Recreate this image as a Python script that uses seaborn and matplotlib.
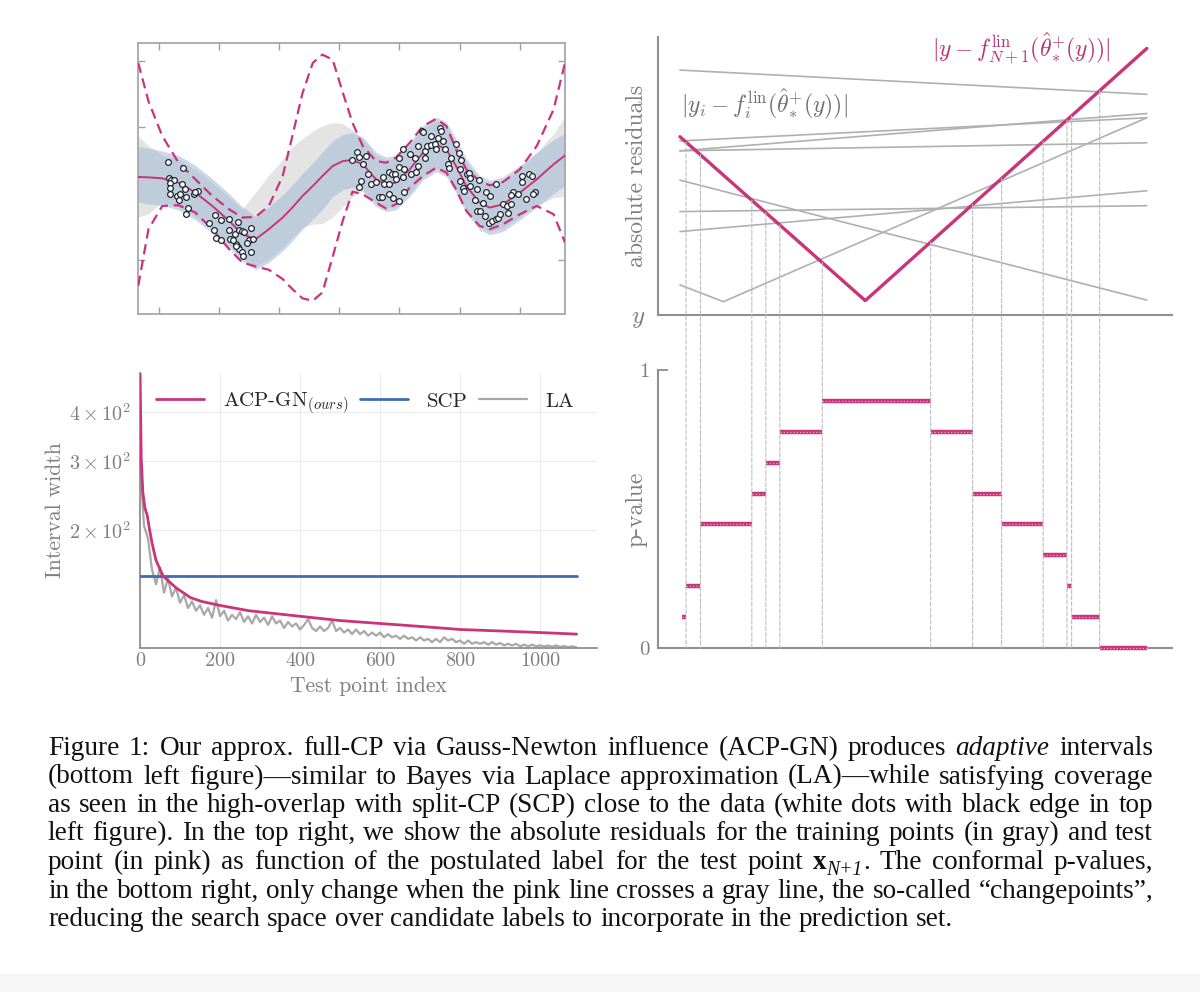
import numpy as np
import pandas as pd
import matplotlib
matplotlib.use("Agg")
import matplotlib.pyplot as plt
import seaborn as sns
from matplotlib.patches import ConnectionPatch, Rectangle
from matplotlib.ticker import NullLocator

PINK = "#c9347a"
BLUE = "#3d6db3"
LINE_GRAY = "#b0b0b0"
AX_GRAY = "#8f8f8f"
TXT_GRAY = "#7f7f7f"

# ---------------- top left: toy regression ----------------
grid_x = [-3.4, -1.7, 0.6, 3.3, 6.1, 8.9, 11.7, 13.9, 16.1, 18.3, 20.6, 22.2, 23.9, 25.6, 27.2,
          28.9, 30.6, 32.2, 33.9, 36.1, 37.8, 39.4, 41.7, 43.9, 46.1, 47.8, 49.4, 51.1, 53.3, 55.0,
          57.2, 60.0, 62.8, 65.6, 67.5]
mean_y = [2.5, 2.45, 2.3, 1.65, 0.15, -1.85, -4.1, -6.1, -6.85, -5.35, -3.6, -2.1, -0.35, 1.15, 2.65,
          4.15, 4.9, 5.05, 4.4, 2.15, 1.4, 1.65, 3.65, 6.15, 7.4, 6.65, 4.15, 1.15, -1.35, -2.1,
          -1.6, 0.15, 2.15, 4.4, 5.75]
acp_upper = [19.65, 13.9, 8.65, 4.65, 2.15, -0.35, -2.35, -3.6, -3.5, -1.85, 2.65, 8.65, 15.15, 19.65, 20.9,
             20.15, 15.15, 10.65, 7.15, 4.9, 4.65, 5.4, 7.65, 10.15, 11.25, 10.15, 6.65, 3.65, 1.9, 1.25,
             1.75, 3.65, 7.15, 12.65, 19.65]
acp_lower = [-13.85, -5.35, -1.85, -1.75, -2.85, -5.35, -8.35, -10.35, -10.95, -11.45, -12.85, -14.35, -15.75, -16.1, -14.85,
             -9.5, -4.0, 0.3, -0.1, -1.35, -2.25, -1.6, 0.9, 2.65, 3.9, 3.15, 0.65, -2.6, -4.85, -5.35,
             -4.6, -3.1, -1.85, -3.1, -7.35]
scp_upper = [7.1, 6.85, 6.4, 5.75, 4.25, 2.25, 0.0, -2.0, -3.45, -1.95, -0.2, 1.3, 3.05, 4.65, 6.25,
             7.95, 8.9, 9.15, 8.5, 6.25, 5.5, 5.75, 7.75, 10.25, 11.5, 10.75, 8.25, 5.25, 2.75, 2.0,
             2.5, 4.25, 6.15, 8.1, 9.05]
scp_lower = [-1.3, -1.55, -1.8, -2.45, -3.95, -5.95, -8.2, -10.2, -11.45, -10.35, -8.6, -7.1, -5.35, -3.85, -2.35,
             -0.45, 0.6, 0.95, 0.3, -1.95, -2.7, -2.45, -0.45, 2.05, 3.3, 2.55, 0.05, -2.95, -5.45, -6.2,
             -5.7, -3.95, -2.05, 0.0, 1.25]
la_upper = [8.6, 7.2, 5.8, 5.15, 3.65, 1.65, -0.6, -2.3, 0.2, 2.8, 5.15, 7.0, 8.3, 9.4, 10.2,
            10.7, 10.5, 9.6, 8.2, 5.75, 5.0, 5.25, 7.25, 9.75, 11.0, 10.25, 7.75, 4.75, 2.25, 1.5,
            2.0, 3.75, 6.2, 9.0, 11.6]
la_lower = [-3.55, -3.0, -1.3, -1.95, -3.45, -5.45, -7.7, -9.7, -10.9, -9.8, -8.1, -6.6, -5.0, -4.6, -4.5,
            -3.5, -2.0, -0.5, 0.6, -1.45, -2.2, -1.95, 0.05, 2.55, 3.8, 3.05, 0.55, -2.45, -4.95, -5.7,
            -5.2, -3.45, -1.8, -0.6, -0.4]
train_x = [1.6, 4.0, 1.7, 2.1, 2.6, 1.8, 1.9, 3.9, 4.4, 1.8, 3.1, 3.6, 4.6, 5.8, 6.6, 6.1, 4.9, 4.6, 3.3,
           8.3, 9.3, 9.2, 10.3, 11.6, 9.6, 10.4, 11.6, 11.8, 12.7, 13.2, 13.3, 13.8, 14.2, 12.8, 13.1, 13.3,
           13.9, 14.0, 15.3, 15.0, 15.7, 15.3, 14.7, 12.3, 12.9,
           32.1, 32.9, 33.3, 34.4, 34.0, 34.7, 33.6, 33.3, 35.3, 36.1, 36.6, 37.1, 37.2, 37.5, 38.3, 38.3,
           38.7, 39.2, 38.3, 38.9, 40.0, 39.9, 40.6, 40.0, 40.7, 40.6, 40.8, 39.4,
           41.8, 41.9, 42.5, 43.1, 42.8, 43.1, 43.8, 43.9, 44.2, 44.2, 44.6, 45.3, 45.3, 45.9, 46.4, 46.7,
           46.9, 47.2, 46.1, 47.5, 48.1, 48.2, 48.6, 49.4, 49.9, 50.2, 50.0, 50.1, 50.6, 51.2, 51.6, 51.8,
           51.7, 50.8,
           52.5, 52.8, 53.2, 52.9, 53.3, 54.2, 54.4, 55.0, 54.9, 55.4, 56.0, 56.3, 56.7, 56.1, 57.2, 57.8,
           58.1, 58.6, 58.8, 58.5, 59.7, 60.3, 60.4, 61.0, 61.6, 62.1, 62.5, 62.2, 53.8]
train_y = [4.7, 3.8, 2.3, 2.1, 2.0, 1.6, 0.9, 1.5, 0.7, 0.0, -0.4, 0.0, -0.5, 0.0, 0.4, 0.2, -2.1, -3.1, -0.9,
           -4.4, -3.2, -5.4, -3.9, -3.8, -6.6, -7.0, -5.4, -6.8, -6.1, -4.3, -5.4, -5.6, -5.8, -7.6, -8.0, -8.4,
           -8.8, -9.4, -5.2, -7.0, -6.8, -8.8, -7.4, -6.9, -7.9,
           5.0, 6.2, 5.5, 5.7, 4.4, 2.9, 1.9, 1.0, 1.4, 1.8, -0.5, -0.5, 2.5, 1.5, 3.3, 1.4,
           2.9, 2.9, -0.1, -0.6, -1.1, 5.3, 6.7, 4.0, 3.7, 2.5, 0.3, 2.2,
           5.9, 2.9, 5.4, 4.2, 3.3, 7.2, 9.4, 9.2, 5.4, 6.4, 7.2, 8.7, 7.3, 7.4, 8.3, 9.8,
           9.4, 7.9, 6.7, 6.7, 4.4, 3.9, 5.4, 7.4, 6.1, 5.1, 3.7, 1.9, 0.8, 2.9, 3.1, 2.3,
           1.2, 0.4,
           -0.9, 0.7, 2.1, -2.6, -2.6, -3.4, 0.3, -0.4, -4.4, -4.1, -3.8, -3.6, -3.0, 1.4, -1.5, -1.9,
           -2.9, -1.6, 0.3, -0.2, 0.0, 1.7, 2.7, -0.8, 3.0, 2.7, 0.2, 0.0, -1.4]

# ---------------- bottom left: interval widths ----------------
acp_idx = [0, 3, 7, 12, 18, 24, 30, 40, 58, 90, 126, 154, 199, 272, 400, 500, 600, 701, 800, 902, 1000, 1091]
acp_width = [520, 306, 250, 228, 218, 200, 185, 167, 152, 142, 134, 131, 128, 124, 120, 117, 115, 113, 111, 110, 109, 108]
scp_idx = [0, 1091]
scp_width = [152, 152]
la_idx = list(range(0, 1100, 10))
la_width = [300, 205, 190, 158, 145, 160, 138, 150, 135, 142,
            130, 136, 126, 131, 124, 128, 121, 126, 119, 132,
            120, 124, 117, 121, 118, 123, 116, 120, 115, 121,
            116, 119, 114, 120, 115, 117, 112, 116, 113, 115,
            111, 114, 118, 112, 110, 113, 110, 112, 117, 110,
            112, 109, 111, 108, 111, 108, 110, 107, 109, 107,
            109, 106, 108, 106, 107, 105, 107, 105, 106, 104,
            106, 104, 105, 103, 105, 103, 106, 104, 105, 103,
            104, 102, 104, 102, 103, 102, 103, 101.5, 103, 101.5,
            102.5, 101, 102, 101, 102, 100.5, 101.5, 100.5, 101.5, 100.5,
            101, 100.5, 101, 100.2, 101, 100.2, 100.6, 100, 100.5, 100]

# ---------------- right: residuals and p-values ----------------
train_res_x = [[0, 10], [0, 10], [0, 10], [0, 10], [0, 10], [0, 10], [0, 10], [0, 0.93, 10]]
train_res_y = [[9.19, 8.28], [6.53, 7.40], [6.16, 7.56], [6.16, 6.46], [5.06, 0.56],
               [3.88, 4.10], [3.13, 4.66], [1.13, 0.50, 7.40]]
test_res_x = [0, 3.97, 10]
test_res_y = [6.69, 0.54, 10.0]
changepoints = [0.13, 0.44, 1.54, 1.84, 2.14, 3.05, 5.37, 6.27, 6.89, 7.78, 8.29, 8.39, 8.99]
step_edges = [0.04, 0.13, 0.44, 1.54, 1.84, 2.14, 3.05, 5.37, 6.27, 6.89, 7.78, 8.29, 8.39, 8.99, 10.0]
pvalue_ninths = [1, 2, 4, 5, 6, 7, 8, 7, 5, 4, 3, 2, 1, 0]

caption_lines = [
    "Figure 1: Our approx. full-CP via Gauss-Newton influence (ACP-GN) produces *adaptive* intervals",
    "(bottom left figure)\u2014similar to Bayes via Laplace approximation (LA)\u2014while satisfying coverage",
    "as seen in the high-overlap with split-CP (SCP) close to the data (white dots with black edge in top",
    "left figure). In the top right, we show the absolute residuals for the training points (in gray) and test",
    "point (in pink) as function of the postulated label for the test point x_{N+1}. The conformal p-values,",
    "in the bottom right, only change when the pink line crosses a gray line, the so-called \u201cchangepoints\u201d,",
    "reducing the search space over candidate labels to incorporate in the prediction set.",
]

sns.set_theme(style="white")
plt.rcParams["font.family"] = "serif"
plt.rcParams["font.serif"] = ["cmr10", "DejaVu Serif"]
plt.rcParams["mathtext.fontset"] = "cm"
plt.rcParams["axes.unicode_minus"] = False
plt.rcParams["axes.formatter.use_mathtext"] = True

fig = plt.figure(figsize=(12, 9.92), dpi=100)


def px_axes(l, t, r, b):
    return fig.add_axes([l / 1200, 1 - b / 992, (r - l) / 1200, (b - t) / 992])


ax_tl = px_axes(138, 43, 565, 314)
ax_bl = px_axes(140, 373, 597, 648)
ax_tr = px_axes(658, 37, 1172, 315)
ax_br = px_axes(658, 370, 1172, 648)

# ---- top left ----
ax = ax_tl
ax.fill_between(grid_x, la_lower, la_upper, color="#e4e4e4", lw=0, zorder=1)
ax.fill_between(grid_x, scp_lower, scp_upper, color="#9cb5d4", alpha=0.5, lw=0, zorder=2)
sns.lineplot(x=grid_x, y=acp_upper, ax=ax, color=PINK, lw=1.6, linestyle=(0, (4.6, 2.6)), zorder=3)
sns.lineplot(x=grid_x, y=acp_lower, ax=ax, color=PINK, lw=1.6, linestyle=(0, (4.6, 2.6)), zorder=3)
sns.lineplot(x=grid_x, y=mean_y, ax=ax, color=PINK, lw=1.4, zorder=4)
sns.scatterplot(x=train_x, y=train_y, ax=ax, s=17, zorder=5)
pts = ax.collections[-1]
pts.set_facecolor("white")
pts.set_edgecolor("#1b2631")
pts.set_linewidth(0.9)
ax.set_xlim(-3.44, 67.5)
ax.set_ylim(-18.1, 22.65)
ax.set_xticks(range(0, 61, 10))
ax.set_yticks([-10, 0, 10, 20])
ax.tick_params(direction="in", length=5, width=1, color="#a0a0a0",
               top=True, right=True, bottom=True, left=True, labelbottom=False, labelleft=False)
for s in ax.spines.values():
    s.set_color("#a8a8a8")
    s.set_linewidth(1.3)

# ---- bottom left ----
ax = ax_bl
sns.lineplot(x=acp_idx, y=acp_width, ax=ax, color=PINK, lw=2, zorder=4,
             label=r"ACP-GN$_{\mathit{(ours)}}$")
sns.lineplot(x=scp_idx, y=scp_width, ax=ax, color=BLUE, lw=2, zorder=3, label="SCP")
sns.lineplot(x=la_idx, y=la_width, ax=ax, color="#a8a8a8", lw=1.6, zorder=2, label="LA")
ax.set_yscale("log")
ax.set_xlim(0, 1142)
ax.set_ylim(99.5, 505)
ax.set_xticks([0, 200, 400, 600, 800, 1000])
ax.set_xticklabels(["0", "200", "400", "600", "800", "1000"])
ax.set_yticks([200, 300, 400])
ax.set_yticklabels([r"$2\times10^{2}$", r"$3\times10^{2}$", r"$4\times10^{2}$"])
ax.yaxis.set_minor_locator(NullLocator())
ax.tick_params(length=0, labelsize=14.5, labelcolor=TXT_GRAY)
ax.tick_params(axis="x", pad=3)
ax.tick_params(axis="y", pad=6)
ax.grid(True, color="#ececec", lw=0.9)
ax.set_axisbelow(True)
for side in ["top", "right"]:
    ax.spines[side].set_visible(False)
for side in ["left", "bottom"]:
    ax.spines[side].set_color(AX_GRAY)
    ax.spines[side].set_linewidth(1.3)
ax.set_xlabel("Test point index", fontsize=15.5, color=TXT_GRAY)
ax.set_ylabel("Interval width", fontsize=15.5, color=TXT_GRAY)
ax.xaxis.set_label_coords(0.5, -0.105)
ax.yaxis.set_label_coords(-0.165, 0.5)
ax.legend(ncol=3, loc="upper left", bbox_to_anchor=(0.0175, 0.965), borderaxespad=0,
          frameon=False, fontsize=15, handlelength=2.3, handletextpad=0.9, columnspacing=0.55)

# ---- top right ----
ax = ax_tr
resid_df = pd.DataFrame({
    "line": [i for i, xs in enumerate(train_res_x) for _ in xs],
    "label": [v for xs in train_res_x for v in xs],
    "resid": [v for ys in train_res_y for v in ys],
})
sns.lineplot(data=resid_df, x="label", y="resid", units="line", estimator=None, sort=False,
             color=LINE_GRAY, lw=1.2, ax=ax, zorder=2)
sns.lineplot(x=test_res_x, y=test_res_y, ax=ax, color=PINK, lw=2.4, zorder=3)
ax.set_xlim(-0.47, 10.54)
ax.set_ylim(0, 10.43)
ax.set_xticks([])
ax.set_yticks([])
ax.set_xlabel("")
for side in ["top", "right"]:
    ax.spines[side].set_visible(False)
for side in ["left", "bottom"]:
    ax.spines[side].set_color(AX_GRAY)
    ax.spines[side].set_linewidth(1.5)
ax.set_ylabel("absolute residuals", fontsize=17, color=TXT_GRAY)
ax.yaxis.set_label_coords(-0.02, 0.5)
ax.text(-0.025, -0.015, r"$y$", transform=ax.transAxes, ha="right", va="center",
        fontsize=18, color=TXT_GRAY)
ax.text(5.4, 10.0, r"$|y - f^{\mathrm{lin}}_{N+1}(\hat{\theta}^{+}_{*}(y))|$",
        color="#b8316f", fontsize=17, ha="left", va="center")
ax.text(0.02, 7.95, r"$|y_i - f^{\mathrm{lin}}_{i}(\hat{\theta}^{+}_{*}(y))|$",
        color="#6f6f6f", fontsize=17, ha="left", va="center")

# ---- bottom right ----
ax = ax_br
pvals = [k / 9 for k in pvalue_ninths]
ax.hlines(pvals, step_edges[:-1], step_edges[1:], color=PINK, lw=3.2, zorder=3, clip_on=False)
ax.hlines(pvals, step_edges[:-1], step_edges[1:], color="#f0a5c6", lw=0.9,
          linestyles=(0, (1, 1.6)), zorder=4, clip_on=False)
ax.set_xlim(-0.47, 10.54)
ax.set_ylim(0, 1)
ax.set_xticks([])
ax.set_yticks([0, 1])
ax.set_yticklabels(["0", "1"])
ax.tick_params(axis="y", direction="in", length=7, width=1.3, color=AX_GRAY,
               labelcolor=TXT_GRAY, labelsize=15, pad=6, left=True)
for side in ["top", "right"]:
    ax.spines[side].set_visible(False)
for side in ["left", "bottom"]:
    ax.spines[side].set_color(AX_GRAY)
    ax.spines[side].set_linewidth(1.5)
ax.set_ylabel("p-value", fontsize=17, color=TXT_GRAY)
ax.yaxis.set_label_coords(-0.02, 0.5)

# changepoint guides from the pink line down to p = 0
for cp in changepoints:
    top = np.interp(cp, test_res_x, test_res_y)
    con = ConnectionPatch(xyA=(cp, top), coordsA=ax_tr.transData, xyB=(cp, 0), coordsB=ax_br.transData,
                          color="#bdbdbd", lw=0.8, linestyle=(0, (3.6, 1.8)), zorder=1)
    fig.add_artist(con)

# ---- caption ----
renderer = fig.canvas.get_renderer()
CAP_FONT = "Liberation Serif"
cap_left, cap_right = 48, 1153
cap_base0, cap_step = 755, 28.5


def word_segments(word):
    if word.startswith("*") and word.endswith("*"):
        return [(word.strip("*"), {"style": "italic"}, 1.0, 0.0)]
    if word.startswith("x_{N+1}"):
        return [("x", {"weight": "bold"}, 1.0, 0.0), ("N+1", {"style": "italic"}, 0.72, 0.22),
                (word[7:], {}, 1.0, 0.0)]
    return [(word, {}, 1.0, 0.0)]


def seg_width(text, kw, scale, fs):
    if not text:
        return 0.0
    t = fig.text(0, 0, text, fontsize=fs * scale, family=CAP_FONT, **kw)
    w = t.get_window_extent(renderer).width
    t.remove()
    return w


def word_width(word, fs):
    return sum(seg_width(t, kw, sc, fs) for t, kw, sc, _ in word_segments(word))


natural = []
for line in caption_lines:
    words = line.split(" ")
    natural.append(sum(word_width(w, 10) for w in words) + (len(words) - 1) * 0.25 * 10 * 100 / 72)
fs = 10 * (cap_right - cap_left) * 0.997 / max(natural)
fs_px = fs * 100 / 72

for i, line in enumerate(caption_lines):
    words = line.split(" ")
    widths = [word_width(w, fs) for w in words]
    if i < len(caption_lines) - 1:
        gap = (cap_right - cap_left - sum(widths)) / (len(words) - 1)
    else:
        gap = 0.25 * fs_px
    base = cap_base0 + i * cap_step
    x = cap_left
    for w, ww in zip(words, widths):
        xx = x
        for t, kw, sc, dy in word_segments(w):
            if t:
                fig.text(xx / 1200, 1 - (base + dy * fs_px) / 992, t, fontsize=fs * sc,
                         family=CAP_FONT, color="#111111", ha="left", va="baseline", **kw)
                xx += seg_width(t, kw, sc, fs)
        x += ww + gap

fig.add_artist(Rectangle((0, 0), 1, 0.018, transform=fig.transFigure, color="#f6f6f6", zorder=0))

fig.savefig("out.png", dpi=100)
